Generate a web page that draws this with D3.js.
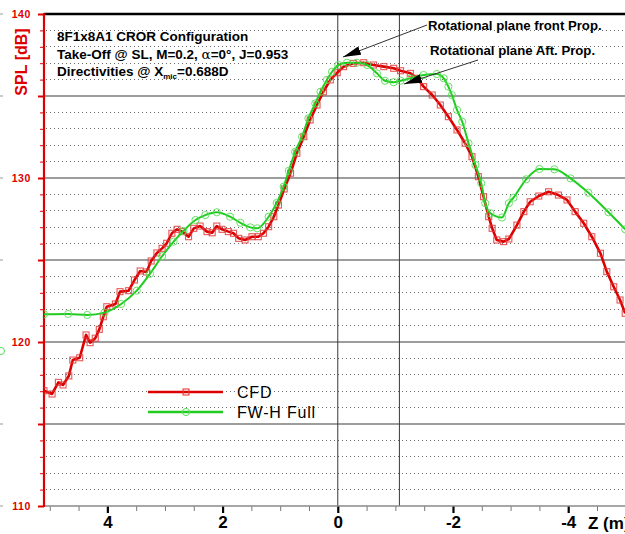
<!DOCTYPE html>
<html>
<head>
<meta charset="utf-8">
<script src="https://cdn.jsdelivr.net/npm/d3@7"></script>
<style>
  html, body { margin: 0; padding: 0; background: #fff; overflow: hidden; }
  svg { display: block; font-family: "Liberation Sans", Arial, sans-serif; }
</style>
</head>
<body>
<svg id="chart" width="625" height="534"></svg>
<script>
// Axial position along the rotor axis Z (m) and SPL (dB)
const cfdZ = [5.10, 4.96, 4.85, 4.77, 4.67, 4.60, 4.48, 4.37, 4.30, 4.21, 4.14, 4.07, 4.01, 3.86, 3.78, 3.63,
  3.53, 3.43, 3.32, 3.24, 3.14, 3.05, 2.97, 2.88, 2.79, 2.70, 2.59, 2.50, 2.39, 2.27, 2.18, 2.10, 2.01, 1.90,
  1.81, 1.72, 1.61, 1.49, 1.38, 1.29, 1.20, 1.11, 1.03, 0.93, 0.82, 0.71, 0.59, 0.48, 0.36, 0.25, 0.13, 0.01,
  -0.10, -0.27, -0.45, -0.62, -0.80, -0.97, -1.09, -1.26, -1.38, -1.49, -1.64, -1.78, -1.92, -2.07, -2.21,
  -2.33, -2.44, -2.53, -2.62, -2.68, -2.76, -2.88, -2.97, -3.11, -3.23, -3.34, -3.49, -3.66, -3.83, -3.98,
  -4.12, -4.27, -4.41, -4.56, -4.67, -4.79, -4.90, -4.99];
const cfdSPL = [117.03, 116.83, 117.54, 117.38, 117.93, 118.90, 119.04, 120.43, 119.96, 120.23, 120.77, 121.54,
  122.15, 122.32, 123.07, 123.13, 123.78, 124.33, 124.27, 124.94, 125.43, 125.71, 126.02, 126.63, 126.87, 126.73,
  126.42, 126.93, 127.07, 126.73, 126.66, 127.07, 126.87, 126.73, 126.63, 126.32, 126.22, 126.42, 126.42, 126.63,
  127.03, 127.64, 128.35, 129.33, 130.29, 131.51, 132.52, 133.54, 134.45, 135.26, 135.98, 136.42, 136.79, 136.99,
  137.03, 136.89, 136.79, 136.69, 136.54, 136.38, 136.08, 135.57, 135.06, 134.45, 133.74, 132.93, 132.12, 131.30,
  130.08, 128.86, 127.64, 126.93, 126.22, 126.12, 126.28, 127.13, 127.95, 128.55, 128.90, 129.16, 128.96, 128.66,
  127.95, 127.24, 126.42, 125.41, 124.29, 123.37, 122.56, 121.75];

const fwhZ = [5.10, 4.68, 4.35, 4.05, 3.76, 3.49, 3.26, 3.05, 2.85, 2.68, 2.47, 2.30, 2.10, 1.87, 1.69, 1.52,
  1.40, 1.20, 1.06, 0.94, 0.85, 0.74, 0.62, 0.51, 0.39, 0.30, 0.19, 0.10, -0.01, -0.16, -0.33, -0.51, -0.68,
  -0.82, -0.97, -1.09, -1.26, -1.49, -1.72, -1.84, -1.92, -1.98, -2.07, -2.16, -2.27, -2.39, -2.49, -2.56,
  -2.65, -2.85, -2.97, -3.05, -3.27, -3.50, -3.76, -4.04, -4.35, -4.70, -4.99];
const fwhSPL = [121.69, 121.71, 121.65, 121.79, 122.32, 123.13, 124.16, 125.23, 126.12, 126.77, 127.44, 127.74,
  127.91, 127.64, 127.27, 126.99, 126.93, 127.64, 128.48, 129.47, 130.44, 131.60, 132.52, 133.64, 134.55, 135.26,
  135.98, 136.48, 136.89, 137.03, 137.03, 136.89, 136.38, 135.93, 135.84, 135.93, 136.08, 136.28, 136.34, 136.08,
  135.57, 135.06, 134.15, 133.43, 132.12, 130.79, 129.68, 128.46, 127.85, 127.59, 128.46, 128.80, 129.92, 130.55,
  130.53, 129.98, 129.10, 127.91, 126.87];

// Rotor plane positions (front and aft propeller)
const rotorPlanes = [0, -1.07];

const zMajorTicks = [4, 2, 0, -2, -4];
const splMajorTicks = [110, 120, 130, 140];
const splGridSolid = [115, 120, 125, 130, 135];

const seriesNames = ["CFD", "FW-H Full"];

const RED = "#dd0000";
const GREEN = "#1fcc1f";

const svg = d3.select("#chart");

const x = d3.scaleLinear().domain([5.1, -5]).range([44, 625.8]);
const y = d3.scaleLinear().domain([110, 140]).range([506, 14]);

const plotL = 44, plotR = 640, plotT = y(140), plotB = y(110);

// Minor grid (every 1 dB), dotted
const minorVals = d3.range(111, 140).filter(v => v % 5 !== 0);
svg.append("g").selectAll("line").data(minorVals).join("line")
  .attr("x1", plotL + 2).attr("x2", plotR)
  .attr("y1", d => y(d)).attr("y2", d => y(d))
  .attr("stroke", "#6a6a6a").attr("stroke-width", 1)
  .attr("stroke-dasharray", "1.2,2.8")
  .attr("shape-rendering", "crispEdges");

// Major grid, solid
svg.append("g").selectAll("line").data(splGridSolid).join("line")
  .attr("x1", plotL).attr("x2", plotR)
  .attr("y1", d => y(d)).attr("y2", d => y(d))
  .attr("stroke", "#3c3c3c").attr("stroke-width", 1.2);

// Rotor plane markers
svg.append("g").selectAll("line").data(rotorPlanes).join("line")
  .attr("x1", d => x(d)).attr("x2", d => x(d))
  .attr("y1", plotT).attr("y2", plotB)
  .attr("stroke", "#3a3a3a").attr("stroke-width", 1);

// Top frame
svg.append("line").attr("x1", plotL).attr("x2", plotR)
  .attr("y1", plotT).attr("y2", plotT)
  .attr("stroke", "#000").attr("stroke-width", 2.4);

// Small marks at the left edge
svg.append("g").selectAll("line").data([140, 135, 130, 125, 115, 110]).join("line")
  .attr("x1", 0).attr("x2", 3).attr("y1", d => y(d)).attr("y2", d => y(d))
  .attr("stroke", "#999").attr("stroke-width", 1);
svg.append("circle").attr("cx", 1).attr("cy", 351).attr("r", 3.5)
  .attr("fill", "none").attr("stroke", "#55dd55").attr("stroke-width", 1);

// X axis: minor ticks
const xMinor = svg.append("g").attr("transform", `translate(0,${plotB})`)
  .call(d3.axisBottom(x).tickValues(d3.range(-5, 5.01, 0.5)).tickSize(5).tickFormat(""));
xMinor.select(".domain").remove();
xMinor.selectAll(".tick line").attr("stroke", "#777").attr("stroke-width", 1);

// X axis: major ticks and labels
const xAxis = svg.append("g").attr("transform", `translate(0,${plotB})`)
  .call(d3.axisBottom(x).tickValues(zMajorTicks).tickSize(7).tickPadding(3).tickFormat(d => String(d)));
xAxis.select(".domain").remove();
xAxis.selectAll(".tick line").attr("stroke", "#000").attr("stroke-width", 2.2);
xAxis.selectAll(".tick text").attr("fill", "#000")
  .style("font-family", "'Liberation Sans', Arial, sans-serif")
  .style("font-size", "17px").style("font-weight", "bold");

// X axis baseline
svg.append("line").attr("x1", plotL).attr("x2", plotR)
  .attr("y1", plotB).attr("y2", plotB)
  .attr("stroke", "#8a8a8a").attr("stroke-width", 1.6);

svg.append("text").attr("x", 588).attr("y", 528.5)
  .style("font-size", "17px").style("font-weight", "bold").attr("fill", "#000")
  .text("Z (m)");

// Y axis: minor ticks
const yMinor = svg.append("g").attr("transform", `translate(${plotL},0)`)
  .call(d3.axisLeft(y).tickValues(d3.range(110, 140.1, 1)).tickSize(4).tickFormat(""));
yMinor.select(".domain").remove();
yMinor.selectAll(".tick line").attr("stroke", RED).attr("stroke-width", 1);

// Y axis: major ticks at every 5 dB
const yMid = svg.append("g").attr("transform", `translate(${plotL},0)`)
  .call(d3.axisLeft(y).tickValues(d3.range(110, 140.1, 5)).tickSize(6).tickFormat(""));
yMid.select(".domain").remove();
yMid.selectAll(".tick line").attr("stroke", RED).attr("stroke-width", 2);

// Y axis labels
const yAxis = svg.append("g").attr("transform", `translate(${plotL},0)`)
  .call(d3.axisLeft(y).tickValues(splMajorTicks).tickSize(0).tickPadding(13).tickFormat(d => String(d)));
yAxis.select(".domain").remove();
yAxis.selectAll(".tick text").attr("fill", RED)
  .style("font-family", "'Liberation Sans', Arial, sans-serif")
  .style("font-size", "10.5px").style("font-weight", "bold").style("letter-spacing", "0.6px");

// Y axis line
svg.append("line").attr("x1", plotL).attr("x2", plotL)
  .attr("y1", plotT - 1).attr("y2", plotB + 1)
  .attr("stroke", RED).attr("stroke-width", 2.2);

svg.append("text")
  .attr("transform", `translate(26.5,62) rotate(-90)`)
  .attr("text-anchor", "middle")
  .style("font-size", "16px").style("font-weight", "bold").attr("fill", RED)
  .text("SPL [dB]");

// Series
const cfd = cfdZ.map((z, i) => ({ z, v: cfdSPL[i] }));
const fwh = fwhZ.map((z, i) => ({ z, v: fwhSPL[i] }));

svg.append("clipPath").attr("id", "plotClip")
  .append("rect").attr("x", plotL).attr("y", plotT - 10).attr("width", 700).attr("height", plotB - plotT + 10);

const plot = svg.append("g").attr("clip-path", "url(#plotClip)");

const lineLinear = d3.line().x(d => x(d.z)).y(d => y(d.v));
const lineSmooth = d3.line().x(d => x(d.z)).y(d => y(d.v)).curve(d3.curveMonotoneX);

plot.append("path").datum(cfd).attr("d", lineLinear)
  .attr("fill", "none").attr("stroke", RED).attr("stroke-width", 2.6).attr("stroke-linejoin", "round");
plot.append("g").selectAll("rect").data(cfd).join("rect")
  .attr("x", d => x(d.z) - 3).attr("y", d => y(d.v) - 3)
  .attr("width", 6).attr("height", 6)
  .attr("fill", "none").attr("stroke", "#e23a3a").attr("stroke-opacity", 0.85).attr("stroke-width", 1.1);

plot.append("path").datum(fwh).attr("d", lineSmooth)
  .attr("fill", "none").attr("stroke", GREEN).attr("stroke-width", 2);
plot.append("g").selectAll("circle").data(fwh).join("circle")
  .attr("cx", d => x(d.z)).attr("cy", d => y(d.v)).attr("r", 3.6)
  .attr("fill", "none").attr("stroke", "#55dd55").attr("stroke-opacity", 0.9).attr("stroke-width", 1);

// Legend
const legend = svg.append("g");
const legendRows = [
  { name: seriesNames[0], color: RED, y: 392, w: 2.6, marker: "rect" },
  { name: seriesNames[1], color: GREEN, y: 412, w: 2.4, marker: "circle" }
];
legendRows.forEach(r => {
  legend.append("line").attr("x1", 148).attr("x2", 223).attr("y1", r.y).attr("y2", r.y)
    .attr("stroke", r.color).attr("stroke-width", r.w);
  if (r.marker === "rect") {
    legend.append("rect").attr("x", 183).attr("y", r.y - 3).attr("width", 6).attr("height", 6)
      .attr("fill", "none").attr("stroke", "#e23a3a").attr("stroke-width", 1.1);
  } else {
    legend.append("circle").attr("cx", 186).attr("cy", r.y).attr("r", 3.6)
      .attr("fill", "none").attr("stroke", "#55dd55").attr("stroke-width", 1);
  }
  legend.append("text").attr("x", 237).attr("y", r.y + 5.5)
    .style("font-size", "16px").style("letter-spacing", "0.8px").attr("fill", "#000").text(r.name);
});

// Case description
const info = svg.append("g").style("font-size", "13.5px").style("font-weight", "bold").attr("fill", "#000");
info.append("text").attr("x", 57).attr("y", 41).text("8F1x8A1 CROR Configuration");
const l2 = info.append("text").attr("x", 57).attr("y", 58.5);
l2.append("tspan").text("Take-Off @ SL, M=0.2, ");
l2.append("tspan").style("font-weight", "normal").style("font-family", "'DejaVu Serif', serif").text("α");
l2.append("tspan").text("=0°, J=0.953");
const l3 = info.append("text").attr("x", 57).attr("y", 75.5);
l3.append("tspan").text("Directivities @ X");
l3.append("tspan").attr("dy", 3.5).style("font-size", "8px").text("mic");
l3.append("tspan").attr("dy", -3.5).text("=0.688D");

// Rotor plane annotations
const defs = svg.append("defs");
defs.append("marker").attr("id", "arrowHead")
  .attr("viewBox", "0 0 18 9").attr("refX", 18).attr("refY", 4.5)
  .attr("markerWidth", 18).attr("markerHeight", 9).attr("markerUnits", "userSpaceOnUse")
  .attr("orient", "auto")
  .append("path").attr("d", "M0,0 L18,4.5 L0,9 Z").attr("fill", "#000");

const annotations = [
  { text: "Rotational plane front Prop.", tx: 428, ty: 29.5, from: [427, 25], to: [343, 57] },
  { text: "Rotational plane Aft. Prop.", tx: 430, ty: 54.5, from: [478, 60], to: [404, 84] }
];
annotations.forEach(a => {
  svg.append("line").attr("x1", a.from[0]).attr("y1", a.from[1]).attr("x2", a.to[0]).attr("y2", a.to[1])
    .attr("stroke", "#333").attr("stroke-width", 1).attr("marker-end", "url(#arrowHead)");
  svg.append("text").attr("x", a.tx).attr("y", a.ty)
    .style("font-size", "13.2px").style("font-weight", "bold").attr("fill", "#000").text(a.text);
});
</script>
</body>
</html>
